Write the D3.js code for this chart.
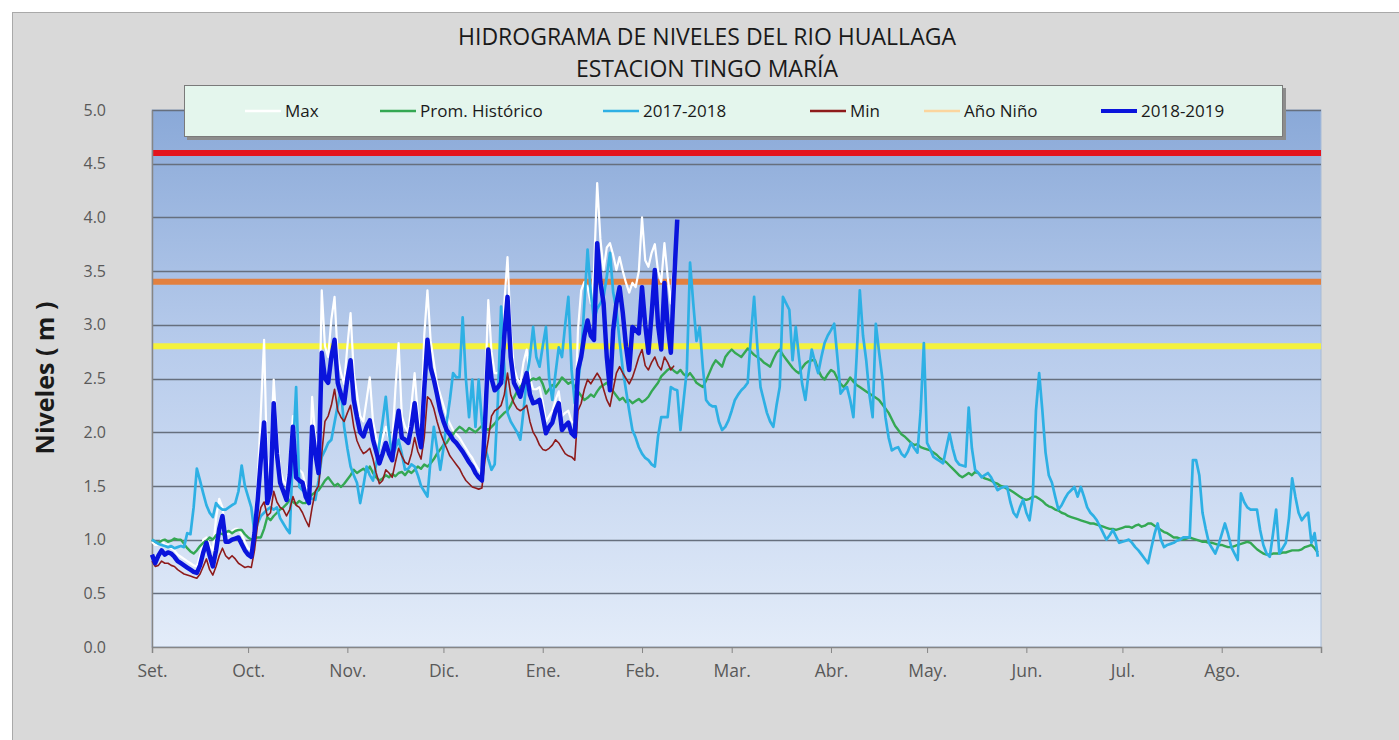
<!DOCTYPE html>
<html>
<head>
<meta charset="utf-8">
<script src="https://cdn.jsdelivr.net/npm/d3@7"></script>
<style>
  body { margin: 0; background: #fff; }
  svg text { font-family: "Open Sans", sans-serif; }
</style>
</head>
<body>
<svg id="chart" width="1399" height="740"></svg>
<script>
// month labels (hydrological year, Sep -> Aug)
var monthLabels = ['Set.', 'Oct.', 'Nov.', 'Dic.', 'Ene.', 'Feb.', 'Mar.', 'Abr.', 'May.', 'Jun.', 'Jul.', 'Ago.'];
var yTicks = [0, 0.5, 1, 1.5, 2, 2.5, 3, 3.5, 4, 4.5, 5];

// alert levels (m): red, orange, yellow
var alertLevels = [4.6, 3.4, 2.8];

// daily levels (m) starting 1 Sep
var promHistorico = [
  1.00,0.98,0.97,0.99,1.00,0.98,0.99,1.01,1.00,1.00,
  0.96,0.92,0.89,0.87,0.90,0.94,0.97,0.99,1.02,1.00,
  1.04,1.06,1.05,1.07,1.08,1.06,1.08,1.09,1.09,1.05,
  1.02,1.00,1.01,1.02,1.02,1.10,1.21,1.18,1.22,1.25,
  1.28,1.30,1.33,1.37,1.35,1.33,1.36,1.34,1.34,1.38,
  1.42,1.44,1.46,1.50,1.55,1.58,1.54,1.50,1.52,1.49,
  1.52,1.56,1.60,1.65,1.62,1.64,1.66,1.63,1.68,1.62,
  1.58,1.55,1.57,1.60,1.58,1.61,1.59,1.62,1.63,1.60,
  1.64,1.62,1.65,1.68,1.66,1.70,1.68,1.71,1.75,1.80,
  1.84,1.88,1.90,1.95,1.98,2.02,2.05,2.03,2.00,2.04,
  2.02,2.00,2.03,2.06,2.04,2.02,2.05,2.08,2.12,2.15,
  2.18,2.20,2.25,2.32,2.38,2.42,2.46,2.44,2.48,2.50,
  2.49,2.51,2.45,2.36,2.40,2.44,2.42,2.46,2.51,2.48,
  2.45,2.47,2.42,2.38,2.34,2.30,2.32,2.35,2.33,2.38,
  2.42,2.44,2.46,2.42,2.38,2.34,2.30,2.32,2.28,2.30,
  2.27,2.29,2.31,2.28,2.30,2.33,2.38,2.42,2.46,2.52,
  2.55,2.58,2.60,2.57,2.55,2.58,2.54,2.52,2.55,2.51,
  2.46,2.44,2.42,2.48,2.55,2.62,2.67,2.64,2.61,2.70,
  2.74,2.77,2.74,2.72,2.70,2.74,2.78,2.75,2.72,2.70,
  2.68,2.65,2.63,2.61,2.68,2.74,2.77,2.72,2.68,2.64,
  2.60,2.57,2.55,2.60,2.64,2.66,2.67,2.67,2.58,2.52,
  2.49,2.54,2.58,2.56,2.50,2.45,2.42,2.46,2.51,2.47,
  2.44,2.42,2.40,2.38,2.36,2.34,2.32,2.30,2.26,2.22,
  2.18,2.12,2.06,2.02,1.98,1.96,1.93,1.90,1.88,1.89,
  1.86,1.85,1.84,1.83,1.81,1.79,1.76,1.74,1.72,1.69,
  1.66,1.63,1.60,1.58,1.60,1.62,1.60,1.63,1.62,1.59,
  1.57,1.56,1.55,1.53,1.52,1.50,1.49,1.47,1.46,1.44,
  1.42,1.40,1.38,1.37,1.38,1.40,1.40,1.38,1.36,1.33,
  1.31,1.30,1.28,1.27,1.25,1.24,1.22,1.21,1.20,1.19,
  1.18,1.17,1.16,1.15,1.15,1.14,1.13,1.12,1.11,1.10,
  1.10,1.09,1.10,1.11,1.12,1.12,1.11,1.13,1.14,1.12,
  1.13,1.15,1.15,1.13,1.11,1.09,1.07,1.06,1.04,1.02,
  1.02,1.01,1.00,1.01,1.02,1.01,1.00,0.99,0.98,0.98,
  0.97,0.97,0.96,0.95,0.95,0.94,0.93,0.93,0.94,0.95,
  0.96,0.97,0.98,0.97,0.94,0.91,0.89,0.87,0.86,0.86,
  0.87,0.87,0.87,0.88,0.88,0.89,0.90,0.90,0.90,0.91,
  0.93,0.94,0.95,0.92,0.88
];

var serie2017 = [
  1.00,0.98,0.96,0.95,0.94,0.93,0.94,0.92,0.93,0.94,
  0.93,1.06,1.05,1.30,1.66,1.55,1.43,1.32,1.25,1.21,
  1.34,1.30,1.28,1.28,1.30,1.32,1.34,1.45,1.69,1.50,
  1.40,1.30,1.06,1.15,1.22,1.25,1.28,1.30,1.28,1.30,
  1.20,1.15,1.10,1.06,1.80,2.42,1.49,1.46,1.43,1.40,
  1.38,1.37,1.55,1.77,1.83,1.90,1.93,2.09,2.25,2.39,
  2.05,1.85,1.68,1.60,1.53,1.34,1.50,1.68,1.60,1.55,
  1.70,1.90,2.10,2.33,2.00,1.77,1.85,1.93,1.80,1.65,
  1.66,1.70,1.68,1.60,1.50,1.45,1.40,1.75,2.05,1.85,
  1.65,1.85,2.09,2.30,2.55,2.51,2.51,3.07,2.50,2.14,
  2.49,2.05,2.49,2.10,1.86,1.75,1.65,1.70,2.30,3.17,
  2.60,2.18,2.10,2.05,2.00,1.93,2.20,2.50,2.70,2.98,
  2.70,2.61,2.80,2.98,2.50,2.30,2.55,2.79,2.70,3.00,
  3.26,2.58,2.27,2.45,2.70,3.20,3.70,3.30,3.04,3.15,
  3.20,3.26,3.45,3.67,3.30,3.14,2.85,2.58,2.39,2.20,
  2.02,1.95,1.86,1.80,1.76,1.74,1.70,1.68,1.96,2.14,
  2.14,2.14,2.42,2.40,2.39,2.02,2.30,2.58,3.58,3.20,
  2.85,2.98,2.60,2.30,2.26,2.24,2.24,2.10,2.02,2.05,
  2.11,2.20,2.30,2.35,2.39,2.42,2.46,2.90,3.26,2.80,
  2.42,2.30,2.18,2.10,2.05,2.25,2.42,3.26,3.20,3.14,
  2.67,2.98,2.70,2.45,2.30,2.55,2.77,2.65,2.55,2.70,
  2.83,2.90,2.95,3.01,2.70,2.36,2.40,2.42,2.30,2.14,
  2.70,3.32,2.90,2.67,2.35,2.14,3.01,2.75,2.51,2.14,
  1.95,1.83,1.85,1.86,1.80,1.77,1.82,1.90,1.85,1.81,
  2.20,2.83,1.90,1.84,1.77,1.75,1.73,1.71,1.85,1.99,
  1.85,1.74,1.70,1.69,1.68,2.23,1.85,1.65,1.62,1.58,
  1.60,1.62,1.58,1.52,1.46,1.48,1.49,1.49,1.35,1.25,
  1.21,1.30,1.37,1.25,1.18,1.40,2.20,2.55,2.20,1.81,
  1.60,1.53,1.40,1.28,1.32,1.38,1.43,1.46,1.49,1.40,
  1.49,1.40,1.30,1.25,1.22,1.18,1.12,1.06,1.00,1.04,
  1.09,1.03,0.97,0.98,0.99,1.00,0.97,0.93,0.90,0.86,
  0.82,0.78,0.92,1.05,1.15,1.00,0.93,0.95,0.96,0.97,
  0.99,1.00,1.02,1.02,1.02,1.74,1.74,1.60,1.25,1.10,
  0.97,0.92,0.87,0.95,1.05,1.15,1.05,0.93,0.87,0.81,
  1.43,1.35,1.30,1.28,1.28,1.28,1.09,0.95,0.87,0.84,
  1.05,1.28,0.87,0.92,0.97,1.20,1.57,1.40,1.25,1.18,
  1.22,1.25,0.97,1.06,0.84
];

var serieMax = [
  0.98,0.95,0.95,1.00,0.95,0.95,0.92,0.90,0.86,0.84,
  0.82,0.80,0.78,0.76,0.75,0.85,1.00,1.02,0.95,0.90,
  1.20,1.38,1.30,1.05,1.05,1.08,1.10,1.10,1.05,0.98,
  0.92,0.90,1.15,1.55,2.20,2.86,1.60,1.80,2.49,2.00,
  1.65,1.55,1.50,1.75,2.15,1.70,1.65,1.62,1.50,1.45,
  2.33,1.95,1.80,3.32,2.80,2.70,3.05,3.26,2.70,2.55,
  2.45,2.80,3.11,2.55,2.35,2.15,2.10,2.30,2.51,2.10,
  1.95,1.85,1.95,2.05,1.95,1.90,2.40,2.83,2.15,2.05,
  2.00,2.25,2.55,2.15,2.00,2.90,3.32,2.85,2.65,2.45,
  2.35,2.25,2.15,2.08,2.02,1.98,1.95,1.90,1.85,1.80,
  1.76,1.70,1.65,1.62,2.40,3.23,2.75,2.55,2.55,2.60,
  3.20,3.63,2.95,2.60,2.50,2.45,2.65,2.77,2.50,2.40,
  2.40,2.42,2.28,2.10,2.15,2.20,2.30,2.38,2.15,2.18,
  2.20,2.10,2.08,2.95,3.32,3.40,3.35,3.20,3.50,4.32,
  3.80,3.51,3.72,3.76,3.65,3.51,3.63,3.50,3.39,3.30,
  3.39,3.35,3.50,4.00,3.60,3.54,3.67,3.75,3.50,3.40,
  3.76,3.45,3.20,3.60
];

var serieMin = [
  0.80,0.75,0.76,0.80,0.78,0.78,0.76,0.75,0.72,0.70,
  0.68,0.67,0.66,0.65,0.64,0.68,0.75,0.82,0.72,0.67,
  0.75,0.85,0.92,0.85,0.82,0.85,0.82,0.78,0.76,0.74,
  0.75,0.74,0.90,1.15,1.30,1.35,1.22,1.25,1.45,1.35,
  1.30,1.28,1.22,1.28,1.40,1.32,1.30,1.25,1.18,1.12,
  1.30,1.45,1.50,1.80,2.10,2.15,2.25,2.40,2.20,2.14,
  2.10,2.18,2.25,2.05,1.92,1.85,1.80,1.82,1.85,1.75,
  1.62,1.52,1.55,1.65,1.62,1.58,1.72,1.85,1.78,1.72,
  1.70,1.80,1.95,1.82,1.75,1.95,2.33,2.30,2.22,2.10,
  2.00,1.92,1.85,1.78,1.74,1.70,1.66,1.60,1.55,1.52,
  1.49,1.48,1.47,1.48,1.75,1.93,2.15,2.20,2.22,2.25,
  2.35,2.55,2.35,2.27,2.22,2.20,2.22,2.25,2.10,2.00,
  1.95,1.88,1.84,1.83,1.85,1.88,1.93,1.90,1.85,1.80,
  1.78,1.77,1.74,2.20,2.27,2.40,2.49,2.45,2.50,2.55,
  2.50,2.40,2.30,2.24,2.40,2.55,2.61,2.55,2.50,2.45,
  2.51,2.60,2.70,2.77,2.62,2.58,2.65,2.70,2.62,2.58,
  2.70,2.65,2.58,2.62
];

var serie2018 = [
  0.86,0.78,0.85,0.90,0.86,0.88,0.87,0.84,0.80,0.78,
  0.76,0.74,0.72,0.70,0.69,0.76,0.88,0.97,0.85,0.75,
  0.90,1.10,1.22,0.98,0.98,1.00,1.01,1.02,0.96,0.90,
  0.86,0.84,1.06,1.37,1.75,2.09,1.34,1.45,2.27,1.80,
  1.53,1.45,1.37,1.60,2.05,1.58,1.55,1.53,1.40,1.34,
  2.05,1.80,1.62,2.74,2.50,2.46,2.70,2.86,2.46,2.35,
  2.27,2.50,2.67,2.30,2.14,2.00,1.96,2.05,2.11,1.93,
  1.82,1.71,1.80,1.90,1.80,1.74,2.00,2.20,1.95,1.93,
  1.90,2.05,2.27,2.00,1.86,2.40,2.86,2.60,2.49,2.35,
  2.20,2.10,2.02,1.98,1.93,1.90,1.86,1.82,1.77,1.72,
  1.68,1.62,1.58,1.55,2.10,2.77,2.50,2.39,2.42,2.46,
  2.90,3.26,2.70,2.46,2.40,2.33,2.45,2.55,2.35,2.27,
  2.28,2.30,2.15,1.99,2.05,2.09,2.20,2.27,2.02,2.06,
  2.09,1.99,1.96,2.58,2.70,2.90,3.04,2.90,2.86,3.76,
  3.40,3.20,2.70,2.39,2.95,3.20,3.35,3.11,2.80,2.58,
  2.98,2.95,2.92,3.35,3.00,2.74,3.10,3.51,3.00,2.77,
  3.39,3.00,2.74,3.40,3.98
];

var seriesNames = ['Max', 'Prom. Histórico', '2017-2018', 'Min', 'Año Niño', '2018-2019'];

(function () {
  'use strict';

  var svg = d3.select('#chart');
  var margin = { left: 152, right: 1321, top: 110, bottom: 647 };

  var start = Date.UTC(2018, 8, 1);
  var dayMs = 86400000;
  var x = d3.scaleUtc()
    .domain([new Date(start), new Date(Date.UTC(2019, 8, 1))])
    .range([margin.left, margin.right]);
  var y = d3.scaleLinear().domain([0, 5]).range([margin.bottom, margin.top]);

  // outer chart area
  svg.append('rect')
    .attr('x', 12.5).attr('y', 12.5)
    .attr('width', 1399).attr('height', 740)
    .attr('fill', '#d9d9d9')
    .attr('stroke', '#a9a9a9');

  // plot background gradient
  var defs = svg.append('defs');
  var grad = defs.append('linearGradient')
    .attr('id', 'plotbg').attr('x1', 0).attr('y1', 0).attr('x2', 0).attr('y2', 1);
  grad.append('stop').attr('offset', '0%').attr('stop-color', '#8aa9d8');
  grad.append('stop').attr('offset', '45%').attr('stop-color', '#b8ccec');
  grad.append('stop').attr('offset', '100%').attr('stop-color', '#e3ecf9');

  svg.append('rect')
    .attr('x', margin.left).attr('y', margin.top)
    .attr('width', margin.right - margin.left)
    .attr('height', margin.bottom - margin.top)
    .attr('fill', 'url(#plotbg)')
    .attr('stroke', '#a8bcd8');

  // gridlines
  svg.append('g')
    .selectAll('line')
    .data(yTicks.slice(1))
    .enter().append('line')
      .attr('x1', margin.left).attr('x2', margin.right)
      .attr('y1', function(d) { return Math.round(y(d)) + 0.5; })
      .attr('y2', function(d) { return Math.round(y(d)) + 0.5; })
      .attr('stroke', '#666f7e')
      .attr('stroke-width', 1.3);

  // alert level lines
  var alertColors = ['#e3141e', '#e2803f', '#f4f23c'];
  svg.append('g')
    .selectAll('line')
    .data(alertLevels)
    .enter().append('line')
      .attr('x1', margin.left).attr('x2', margin.right)
      .attr('y1', function(d) { return y(d); })
      .attr('y2', function(d) { return y(d); })
      .attr('stroke', function(d, i) { return alertColors[i]; })
      .attr('stroke-width', 6);

  // axes
  var monthTicks = d3.utcMonth.range(new Date(start), new Date(Date.UTC(2019, 8, 2)));
  var xAxis = svg.append('g')
    .attr('transform', 'translate(0,' + margin.bottom + ')')
    .call(d3.axisBottom(x)
      .tickValues(monthTicks)
      .tickSize(6)
      .tickPadding(12)
      .tickFormat(function(d, i) { return monthLabels[i] || ''; }));
  xAxis.select('.domain').attr('stroke', '#868686').attr('stroke-width', 1.5);
  xAxis.selectAll('.tick line').attr('stroke', '#868686');
  xAxis.selectAll('text')
    .attr('fill', '#595959')
    .attr('font-size', '17.5px')
    .attr('font-family', '"Open Sans", sans-serif');

  var yAxis = svg.append('g')
    .attr('transform', 'translate(' + margin.left + ',0)')
    .call(d3.axisLeft(y)
      .tickValues(yTicks)
      .tickSize(0)
      .tickPadding(48)
      .tickFormat(d3.format('.1f')));
  yAxis.select('.domain').attr('stroke', '#868686').attr('stroke-width', 1.5);
  yAxis.selectAll('text')
    .attr('fill', '#595959')
    .attr('font-size', '16px')
    .attr('text-anchor', 'end')
    .attr('font-family', '"Open Sans", sans-serif');
  yAxis.selectAll('text').attr('x', -46);

  // y axis title
  svg.append('text')
    .attr('transform', 'translate(54,378) rotate(-90)')
    .attr('text-anchor', 'middle')
    .attr('font-size', '25px')
    .attr('font-weight', 'bold')
    .attr('fill', '#1a1a1a')
    .text('Niveles ( m )');

  // title
  svg.append('text')
    .attr('x', 707).attr('y', 45)
    .attr('text-anchor', 'middle')
    .attr('font-size', '23px')
    .attr('fill', '#1a1a1a')
    .text('HIDROGRAMA DE NIVELES DEL RIO HUALLAGA');
  svg.append('text')
    .attr('x', 707).attr('y', 77)
    .attr('text-anchor', 'middle')
    .attr('font-size', '23px')
    .attr('fill', '#1a1a1a')
    .text('ESTACION TINGO MARÍA');

  // series
  var line = d3.line()
    .x(function(d, i) { return x(new Date(start + i * dayMs)); })
    .y(function(d) { return y(d); });

  var seriesStyle = [
    { data: serieMax, color: '#ffffff', width: 2.2 },
    { data: promHistorico, color: '#34a853', width: 2.4 },
    { data: serie2017, color: '#2eb0e4', width: 2.7 },
    { data: serieMin, color: '#8e1b1b', width: 1.6 },
    { data: null, color: '#fbd59e', width: 2.5 },
    { data: serie2018, color: '#0a14dc', width: 4.5 }
  ];

  svg.append('g')
    .selectAll('path')
    .data(seriesStyle.filter(function(s) { return s.data; }))
    .enter().append('path')
      .attr('d', function(s) { return line(s.data); })
      .attr('fill', 'none')
      .attr('stroke', function(s) { return s.color; })
      .attr('stroke-width', function(s) { return s.width; })
      .attr('stroke-linejoin', 'round');

  // legend
  var legend = svg.append('g');
  legend.append('rect')
    .attr('x', 187).attr('y', 88)
    .attr('width', 1099).attr('height', 52)
    .attr('fill', '#8c8c8c');
  legend.append('rect')
    .attr('x', 184.5).attr('y', 85.5)
    .attr('width', 1098).attr('height', 51)
    .attr('fill', '#e4f6ed')
    .attr('stroke', '#7a7a7a');

  var legendX = [245, 380, 603, 810, 924, 1101];
  var item = legend.selectAll('.item')
    .data(seriesNames)
    .enter().append('g')
      .attr('class', 'item')
      .attr('transform', function(d, i) { return 'translate(' + legendX[i] + ',111)'; });
  item.append('line')
    .attr('x1', 0).attr('x2', 36)
    .attr('stroke', function(d, i) { return seriesStyle[i].color; })
    .attr('stroke-width', function(d, i) { return i === 5 ? 4 : 2.5; });
  item.append('text')
    .attr('x', 40).attr('dy', '0.35em')
    .attr('font-size', '17px')
    .attr('fill', '#1a1a1a')
    .text(function(d) { return d; });
}());
</script>
</body>
</html>
